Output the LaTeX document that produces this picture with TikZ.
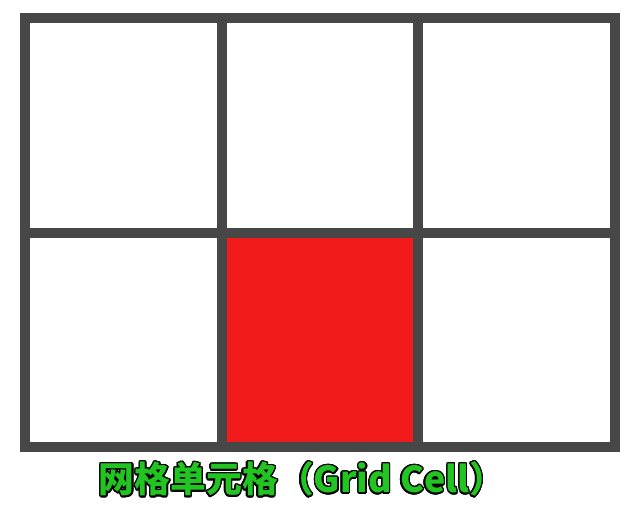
\documentclass[tikz,border=0pt]{standalone}
\usepackage{fontspec}
\usepackage{contour}
\newfontfamily\cjk{Noto Sans CJK SC}
\definecolor{gridgray}{HTML}{474747}
\definecolor{cellred}{HTML}{F21B1B}
\definecolor{labelgreen}{HTML}{22C422}
\contourlength{1.4pt}
\begin{document}
\begin{tikzpicture}[
        x=1bp, y=-1bp,
        gridline/.style={gridgray, line width=10bp, line cap=rect},
        cell/.style={fill=cellred},
        caption/.style={font=\cjk\bfseries\fontsize{36}{40}\selectfont, text=labelgreen, inner sep=0pt}
    ]
        \useasboundingbox[fill=white] (0,0) rectangle (628,512);

        \coordinate (nw) at (25, 18.5);
        \coordinate (se) at (615, 447);

        % the marked cell
        \fill[cell] (221.7, 232.7) rectangle (418.3, 447);

        \draw[gridline] (nw) rectangle (se);
        \foreach \x in {221.7, 418.3}
            \draw[gridline] (\x, 18.5) -- (\x, 447);
        \draw[gridline] (25, 232.7) -- (615, 232.7);

        \node[caption] (label) at (302, 480) {\contour{black}{网格单元格（Grid Cell）}};
    \end{tikzpicture}
\end{document}
